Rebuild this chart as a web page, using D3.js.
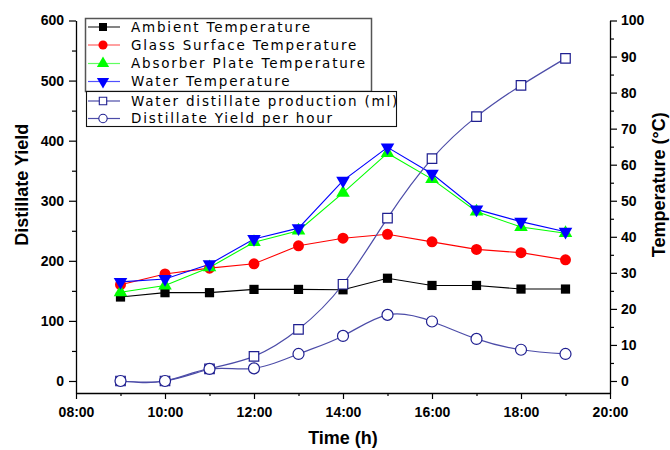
<!DOCTYPE html>
<html>
<head>
<meta charset="utf-8">
<script src="https://cdn.jsdelivr.net/npm/d3@7"></script>
<style>
  html, body { margin: 0; padding: 0; background: #fff; }
  svg { display: block; }
  .tick-label { font-family: "Liberation Sans", Arial, sans-serif; font-weight: bold; font-size: 14px; }
  .axis-title { font-family: "Liberation Sans", Arial, sans-serif; font-weight: bold; font-size: 18px; }
  .legend-text { font-family: "DejaVu Sans", sans-serif; font-size: 13.5px; letter-spacing: 1.8px; }
</style>
</head>
<body>
<script>
// Hour of day for each reading
const hours = [9, 10, 11, 12, 13, 14, 15, 16, 17, 18, 19];

// Temperatures (°C), right axis
const ambientTemp  = [23.3, 24.5, 24.5, 25.4, 25.4, 25.3, 28.5, 26.5, 26.5, 25.5, 25.5];
const glassTemp    = [26.7, 29.7, 31.3, 32.5, 37.5, 39.6, 40.7, 38.6, 36.5, 35.6, 33.6];
const absorberTemp = [24.6, 26.5, 31.5, 38.5, 41.7, 52.2, 63.2, 56.0, 47.0, 42.7, 41.0];
const waterTemp    = [27.5, 28.3, 32.4, 39.4, 42.4, 55.6, 64.8, 57.5, 47.6, 44.2, 41.4];

// Distillate (ml), left axis
const production   = [0, 0, 20, 41, 86, 161, 271, 370, 440, 492, 537];
const yieldPerHour = [0, 0, 20, 21, 45, 75, 110, 99, 70, 52, 45];

// Axis ticks
const xMajorTicks = [8, 10, 12, 14, 16, 18, 20];
const xMinorTicks = [9, 11, 13, 15, 17, 19];
const leftMajorTicks = [0, 100, 200, 300, 400, 500, 600];
const leftMinorTicks = [50, 150, 250, 350, 450, 550];
const rightMajorTicks = [0, 10, 20, 30, 40, 50, 60, 70, 80, 90, 100];
const rightMinorTicks = [5, 15, 25, 35, 45, 55, 65, 75, 85, 95];

const legendLabels = [
  "Ambient Temperature",
  "Glass Surface Temperature",
  "Absorber Plate Temperature",
  "Water Temperature",
  "Water distillate production (ml)",
  "Distillate Yield per hour"
];

const W = 670, H = 450;
const plotLeft = 76, plotRight = 610, plotTop = 20.5, plotBottom = 393;

const svg = d3.select("body").append("svg").attr("width", W).attr("height", H);

const x = d3.scaleLinear().domain([8, 20]).range([plotLeft, plotRight]);
const yL = d3.scaleLinear().domain([-20, 600]).range([plotBottom, plotTop]);
const yR = d3.scaleLinear().domain([-10 / 3, 100]).range([plotBottom, plotTop]);

const fmtTime = h => (h < 10 ? "0" : "") + h + ":00";

// Bottom axis
const gx = svg.append("g").attr("transform", `translate(0,${plotBottom})`);
gx.call(d3.axisBottom(x).tickValues(xMajorTicks).tickFormat(fmtTime).tickSize(6).tickSizeOuter(0));
gx.append("g").call(d3.axisBottom(x).tickValues(xMinorTicks).tickFormat("").tickSize(3).tickSizeOuter(0))
  .select(".domain").remove();

// Left axis
const gl = svg.append("g").attr("transform", `translate(${plotLeft},0)`);
gl.call(d3.axisLeft(yL).tickValues(leftMajorTicks).tickSize(7).tickSizeOuter(0));
gl.append("g").call(d3.axisLeft(yL).tickValues(leftMinorTicks).tickFormat("").tickSize(4).tickSizeOuter(0))
  .select(".domain").remove();

// Right axis
const gr = svg.append("g").attr("transform", `translate(${plotRight},0)`);
gr.call(d3.axisRight(yR).tickValues(rightMajorTicks).tickSize(7).tickSizeOuter(0));
gr.append("g").call(d3.axisRight(yR).tickValues(rightMinorTicks).tickFormat("").tickSize(4).tickSizeOuter(0))
  .select(".domain").remove();

svg.selectAll(".domain").attr("stroke", "#000").attr("stroke-width", 1.3);
svg.selectAll(".tick line").attr("stroke", "#000").attr("stroke-width", 1.2);
svg.selectAll(".tick text").attr("class", "tick-label").attr("fill", "#000");
gx.selectAll(".tick text").attr("dy", "1.05em");
gl.selectAll(".tick text").attr("x", -12);
gr.selectAll(".tick text").attr("x", 11);

// Axis titles
svg.append("text").attr("class", "axis-title")
  .attr("x", (plotLeft + plotRight) / 2).attr("y", 444).attr("text-anchor", "middle").text("Time (h)");
svg.append("text").attr("class", "axis-title")
  .attr("transform", `translate(28,${(plotTop + plotBottom) / 2 - 22}) rotate(-90)`)
  .attr("text-anchor", "middle").text("Distillate Yield");
svg.append("text").attr("class", "axis-title")
  .attr("transform", `translate(665,${(plotTop + plotBottom) / 2 - 22}) rotate(-90)`)
  .attr("text-anchor", "middle").text("Temperature (°C)");

// Marker shapes
const sym = {
  square: d3.symbol().type(d3.symbolSquare).size(85),
  circle: d3.symbol().type(d3.symbolCircle).size(95),
  up: d3.symbol().type(d3.symbolTriangle).size(80),
  hollowSquare: d3.symbol().type(d3.symbolSquare).size(90),
  hollowCircle: d3.symbol().type(d3.symbolCircle).size(95)
};

const tempSeries = [
  { values: ambientTemp,  color: "#000000", shape: "square", rot: 0 },
  { values: glassTemp,    color: "#ff0000", shape: "circle", rot: 0 },
  { values: absorberTemp, color: "#00ff00", shape: "up",     rot: 0 },
  { values: waterTemp,    color: "#0000ff", shape: "up",     rot: 180 }
];

const distSeries = [
  { values: production,   line: "#4c4ca8", stroke: "#1f1f90", shape: "hollowSquare" },
  { values: yieldPerHour, line: "#4c4ca8", stroke: "#1f1f90", shape: "hollowCircle" }
];

// Temperature lines and markers
tempSeries.forEach(s => {
  const line = d3.line().x((d, i) => x(hours[i])).y(d => yR(d));
  svg.append("path").attr("d", line(s.values)).attr("fill", "none")
    .attr("stroke", s.color).attr("stroke-width", 1.1);
});
tempSeries.forEach(s => {
  svg.append("g").selectAll("path").data(s.values).join("path")
    .attr("d", sym[s.shape]())
    .attr("transform", (d, i) => `translate(${x(hours[i])},${yR(d)}) rotate(${s.rot})`)
    .attr("fill", s.color);
});

// Distillate curves and hollow markers
distSeries.forEach(s => {
  const line = d3.line().curve(d3.curveNatural).x((d, i) => x(hours[i])).y(d => yL(d));
  svg.append("path").attr("d", line(s.values)).attr("fill", "none")
    .attr("stroke", s.line).attr("stroke-width", 1.2);
});
distSeries.forEach(s => {
  svg.append("g").selectAll("path").data(s.values).join("path")
    .attr("d", sym[s.shape]())
    .attr("transform", (d, i) => `translate(${x(hours[i])},${yL(d)})`)
    .attr("fill", "#fff").attr("stroke", s.stroke).attr("stroke-width", 1.2);
});

// Legend boxes
svg.append("rect").attr("x", 85.5).attr("y", 18.5).attr("width", 286).attr("height", 73)
  .attr("fill", "#fff").attr("stroke", "#555").attr("stroke-width", 1.5);
svg.append("rect").attr("x", 86.5).attr("y", 91.5).attr("width", 310).attr("height", 35)
  .attr("fill", "#fff").attr("stroke", "#111").attr("stroke-width", 1.1);

const legendItems = [
  { color: "#000000", shape: "square", rot: 0, fill: "#000000", line: "#333" },
  { color: "#ff0000", shape: "circle", rot: 0, fill: "#ff0000", line: "#ff6060" },
  { color: "#00ff00", shape: "up", rot: 0, fill: "#00ff00", line: "#60ff60" },
  { color: "#0000ff", shape: "up", rot: 180, fill: "#0000ff", line: "#5050ff" },
  { color: "#1f1f90", shape: "hollowSquare", rot: 0, fill: "#fff", line: "#4c4ca8" },
  { color: "#1f1f90", shape: "hollowCircle", rot: 0, fill: "#fff", line: "#4c4ca8" }
];
const legendRowY = [27, 45, 63.5, 81.5, 101, 118.5];

legendItems.forEach((it, i) => {
  const cy = legendRowY[i];
  const g = svg.append("g");
  g.append("line").attr("x1", 88).attr("x2", 120).attr("y1", cy).attr("y2", cy)
    .attr("stroke", it.line).attr("stroke-width", 1.2);
  const hollow = it.fill === "#fff";
  g.append("path").attr("d", d3.symbol().type(
      it.shape.includes("quare") ? d3.symbolSquare : it.shape.includes("ircle") ? d3.symbolCircle : d3.symbolTriangle
    ).size(hollow ? 55 : 65)())
    .attr("transform", `translate(103,${cy}) rotate(${it.rot})`)
    .attr("fill", it.fill).attr("stroke", hollow ? it.color : "none").attr("stroke-width", 1.1);
  g.append("text").attr("class", "legend-text").attr("x", 131).attr("y", cy + 4.5)
    .attr("fill", "#000").text(legendLabels[i]);
});
</script>
</body>
</html>
